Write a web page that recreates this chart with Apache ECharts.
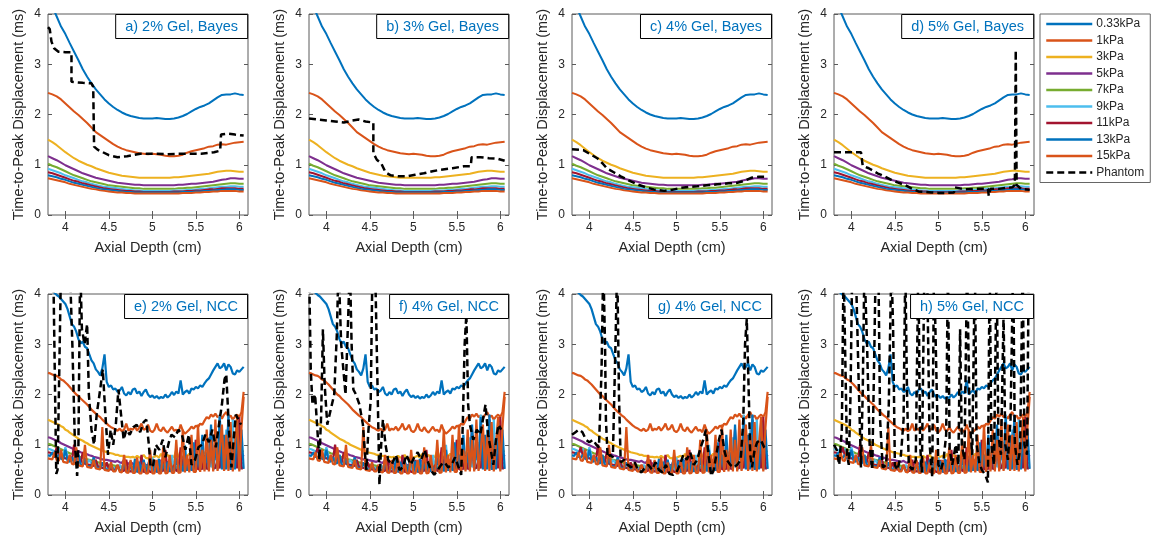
<!DOCTYPE html>
<html>
<head>
<meta charset="utf-8">
<script src="https://cdn.jsdelivr.net/npm/echarts@6/dist/echarts.min.js"></script>
<style>
  html, body { margin: 0; padding: 0; background: #fff; }
  #chart { width: 1152px; height: 542px; }
</style>
</head>
<body>
<div id="chart"></div>
<script>
// ---------- labels ----------
const stiffnessNames = ['0.33kPa', '1kPa', '3kPa', '5kPa', '7kPa', '9kPa', '11kPa', '13kPa', '15kPa'];
const phantomName = 'Phantom';
const panelTitles = ['a) 2% Gel, Bayes', 'b) 3% Gel, Bayes', 'c) 4% Gel, Bayes', 'd) 5% Gel, Bayes',
                     'e) 2% Gel, NCC', 'f) 4% Gel, NCC', 'g) 4% Gel, NCC', 'h) 5% Gel, NCC'];
const depthTicks = [4, 4.5, 5, 5.5, 6];
const xTitle = 'Axial Depth (cm)';
const yTitle = 'Time-to-Peak Displacement (ms)';

// ---------- Bayesian estimator, simulated materials (depth in cm, TTP in ms) ----------
const depthBayes = [3.80,3.85,3.90,3.95,4.00,4.05,4.10,4.15,4.20,4.25,
  4.30,4.35,4.40,4.45,4.50,4.55,4.60,4.65,4.70,4.75,
  4.80,4.85,4.90,4.95,5.00,5.05,5.10,5.15,5.20,5.25,
  5.30,5.35,5.40,5.45,5.50,5.55,5.60,5.65,5.70,5.75,
  5.80,5.85,5.90,5.95,6.00,6.05];
const bayes033 = [4.35,4.15,3.95,3.75,3.60,3.42,3.25,3.08,2.90,2.75,
  2.62,2.50,2.40,2.30,2.22,2.15,2.09,2.04,2.00,1.97,
  1.95,1.93,1.92,1.92,1.92,1.93,1.92,1.91,1.91,1.92,
  1.94,1.97,2.01,2.06,2.11,2.15,2.18,2.22,2.28,2.34,
  2.39,2.40,2.40,2.42,2.40,2.39];
const bayes1 = [2.43,2.40,2.36,2.30,2.22,2.14,2.06,1.99,1.91,1.83,
  1.74,1.65,1.59,1.53,1.47,1.41,1.36,1.32,1.29,1.27,
  1.25,1.23,1.22,1.21,1.22,1.21,1.20,1.18,1.17,1.17,
  1.18,1.20,1.24,1.27,1.29,1.31,1.33,1.36,1.37,1.40,
  1.41,1.40,1.42,1.44,1.45,1.46];
const bayes3 = [1.50,1.45,1.39,1.32,1.25,1.19,1.13,1.08,1.04,1.00,
  0.97,0.93,0.90,0.87,0.84,0.82,0.80,0.78,0.77,0.76,
  0.75,0.74,0.74,0.74,0.74,0.74,0.74,0.74,0.74,0.75,
  0.75,0.76,0.77,0.78,0.79,0.80,0.81,0.82,0.84,0.86,
  0.87,0.88,0.88,0.87,0.86,0.86];
const bayes5 = [1.17,1.13,1.09,1.04,0.99,0.95,0.91,0.87,0.83,0.80,
  0.77,0.74,0.72,0.70,0.68,0.66,0.64,0.63,0.62,0.61,
  0.60,0.60,0.59,0.59,0.59,0.59,0.59,0.59,0.59,0.59,
  0.60,0.60,0.61,0.62,0.62,0.63,0.64,0.65,0.66,0.68,
  0.70,0.71,0.73,0.73,0.72,0.72];
const bayes7 = [1.02,0.98,0.95,0.91,0.87,0.83,0.79,0.76,0.73,0.70,
  0.67,0.65,0.63,0.61,0.59,0.58,0.57,0.56,0.55,0.54,
  0.53,0.53,0.52,0.52,0.52,0.52,0.52,0.52,0.52,0.52,
  0.53,0.53,0.54,0.54,0.55,0.56,0.57,0.58,0.59,0.60,
  0.61,0.62,0.63,0.63,0.62,0.62];
const bayes9 = [0.92,0.89,0.86,0.83,0.79,0.76,0.73,0.70,0.67,0.65,
  0.62,0.60,0.58,0.56,0.55,0.54,0.53,0.52,0.51,0.50,
  0.49,0.49,0.48,0.48,0.48,0.48,0.48,0.48,0.48,0.49,
  0.49,0.49,0.50,0.50,0.51,0.52,0.52,0.53,0.54,0.55,
  0.56,0.56,0.57,0.57,0.56,0.56];
const bayes11 = [0.85,0.83,0.80,0.77,0.74,0.71,0.68,0.66,0.63,0.61,
  0.59,0.57,0.55,0.53,0.52,0.51,0.50,0.49,0.48,0.48,
  0.47,0.47,0.46,0.46,0.46,0.46,0.46,0.46,0.46,0.47,
  0.47,0.47,0.48,0.48,0.49,0.49,0.50,0.51,0.51,0.52,
  0.53,0.53,0.53,0.53,0.52,0.52];
const bayes13 = [0.79,0.77,0.75,0.72,0.70,0.67,0.64,0.62,0.60,0.58,
  0.56,0.54,0.52,0.51,0.50,0.49,0.48,0.47,0.46,0.46,
  0.45,0.45,0.45,0.45,0.45,0.45,0.45,0.45,0.45,0.45,
  0.45,0.46,0.46,0.46,0.47,0.47,0.48,0.48,0.49,0.50,
  0.50,0.51,0.51,0.51,0.50,0.50];
const bayes15 = [0.73,0.71,0.69,0.67,0.65,0.62,0.60,0.58,0.56,0.54,
  0.52,0.51,0.49,0.48,0.47,0.46,0.45,0.45,0.44,0.44,
  0.43,0.43,0.43,0.43,0.43,0.43,0.43,0.43,0.43,0.43,
  0.43,0.44,0.44,0.44,0.45,0.45,0.46,0.46,0.47,0.47,
  0.48,0.48,0.48,0.48,0.47,0.47];

// ---------- NCC estimator, simulated materials ----------
const depthNcc = [3.800,3.825,3.850,3.875,3.900,3.925,3.950,3.975,4.000,4.025,
  4.050,4.075,4.100,4.125,4.150,4.175,4.200,4.225,4.250,4.275,
  4.300,4.325,4.350,4.375,4.400,4.425,4.450,4.475,4.500,4.525,
  4.550,4.575,4.600,4.625,4.650,4.675,4.700,4.725,4.750,4.775,
  4.800,4.825,4.850,4.875,4.900,4.925,4.950,4.975,5.000,5.025,
  5.050,5.075,5.100,5.125,5.150,5.175,5.200,5.225,5.250,5.275,
  5.300,5.325,5.350,5.375,5.400,5.425,5.450,5.475,5.500,5.525,
  5.550,5.575,5.600,5.625,5.650,5.675,5.700,5.725,5.750,5.775,
  5.800,5.825,5.850,5.875,5.900,5.925,5.950,5.975,6.000,6.025,
  6.050];
const ncc033 = [4.30,4.20,4.10,4.02,3.98,3.95,3.90,3.85,3.80,3.70,
  3.55,3.40,3.35,3.25,3.10,3.02,3.05,2.95,2.92,2.80,
  2.68,2.62,2.50,2.45,2.38,2.52,2.80,2.25,2.15,2.18,
  2.10,2.12,2.05,2.08,2.15,2.02,1.98,2.05,2.00,2.10,
  2.12,2.02,2.06,1.97,2.05,2.10,2.00,1.95,1.98,1.93,
  1.97,1.92,1.95,1.93,2.00,1.94,1.98,2.05,1.99,2.06,
  2.02,2.28,2.00,2.05,2.08,2.02,2.12,2.10,2.15,2.12,
  2.18,2.15,2.22,2.28,2.32,2.40,2.48,2.55,2.62,2.52,
  2.55,2.62,2.48,2.60,2.55,2.42,2.40,2.48,2.45,2.50,
  2.55];
const ncc1 = [2.43,2.42,2.40,2.38,2.37,2.34,2.30,2.28,2.24,2.20,
  2.15,2.10,2.05,2.00,1.97,1.92,1.88,1.84,1.80,1.75,
  1.70,1.66,1.62,1.58,1.55,1.50,1.46,1.42,1.38,1.35,
  1.33,1.30,1.28,1.32,1.27,1.30,1.42,1.28,1.32,1.30,
  1.36,1.28,1.34,1.42,1.30,1.32,1.40,1.28,1.25,1.30,
  1.42,1.30,1.27,1.35,1.28,1.24,1.30,1.36,1.28,1.30,
  1.25,1.40,1.28,1.22,1.26,1.30,1.36,1.32,1.38,1.35,
  1.42,1.40,1.48,1.55,1.52,1.60,1.56,1.62,1.55,1.58,
  1.52,1.60,1.65,1.55,1.58,1.50,1.56,1.60,1.55,1.65,
  2.05];
const ncc3 = [1.50,1.48,1.46,1.44,1.42,1.40,1.37,1.35,1.30,1.28,
  1.24,1.21,1.18,1.15,1.12,1.10,1.08,1.05,1.03,1.00,
  0.98,0.96,0.94,0.92,0.90,0.88,0.87,0.85,0.84,0.83,
  0.82,0.80,0.80,0.78,0.78,0.77,0.76,0.76,0.75,0.76,
  0.74,0.78,0.75,0.74,0.80,0.74,0.73,0.75,0.74,0.76,
  0.78,0.74,0.82,0.75,0.76,0.80,0.74,0.78,0.75,0.90,
  0.76,0.78,0.75,0.80,0.77,0.82,0.78,0.76,0.80,0.79,
  0.82,0.80,0.85,0.82,0.95,0.84,0.86,0.85,1.05,0.87,
  0.88,0.86,0.90,0.88,1.10,0.87,0.88,0.86,0.90,0.86,
  0.88];
const ncc5 = [1.15,1.14,1.12,1.10,1.08,1.06,1.03,1.01,0.99,0.97,
  0.95,0.93,0.91,0.89,0.87,0.85,0.84,0.82,0.81,0.79,
  0.78,0.76,0.75,0.74,0.72,0.71,0.70,0.70,0.69,0.68,
  0.67,0.66,0.68,0.65,0.64,0.70,0.63,0.62,0.66,0.62,
  0.61,0.60,0.64,0.60,0.62,0.60,0.59,0.63,0.60,0.59,
  0.62,0.60,0.70,0.60,0.62,0.66,0.60,0.61,0.64,0.62,
  0.61,0.68,0.62,0.63,0.70,0.63,0.65,0.64,0.72,0.65,
  0.66,0.78,0.67,0.68,0.90,0.69,0.70,0.72,1.00,0.72,
  0.73,0.75,1.20,0.74,0.73,0.78,0.72,0.74,0.76,0.73,
  0.80];
const ncc7 = [1.02,1.01,0.99,0.97,0.95,0.93,0.91,0.89,0.87,0.85,
  0.83,0.82,0.80,0.78,0.77,0.75,0.74,0.72,0.71,0.70,
  0.69,0.67,0.66,0.65,0.64,0.63,0.62,0.61,0.60,0.60,
  0.59,0.58,0.57,0.57,0.56,0.56,0.60,0.55,0.54,0.56,
  0.54,0.53,0.58,0.53,0.54,0.52,0.60,0.53,0.52,0.55,
  0.53,0.52,0.58,0.53,0.55,0.54,0.53,0.62,0.54,0.55,
  0.56,0.54,0.65,0.56,0.57,0.58,0.56,0.70,0.58,0.59,
  0.60,0.58,0.75,0.60,0.61,0.64,0.62,0.90,0.63,0.64,
  0.62,0.66,1.00,0.63,0.64,0.62,0.70,0.63,0.62,0.64,
  0.62];
const ncc9 = [0.92,0.91,0.89,0.87,0.85,0.92,0.82,0.80,0.95,0.77,
  0.75,0.74,0.72,0.70,0.78,0.68,0.66,0.65,0.64,0.70,
  0.62,0.61,0.60,0.59,0.58,0.64,0.57,0.56,0.55,0.58,
  0.54,0.53,0.53,0.60,0.52,0.52,0.51,0.58,0.50,0.50,
  0.49,0.66,0.49,0.48,0.70,0.48,0.52,0.48,0.75,0.48,
  0.48,0.70,0.49,0.50,0.65,0.49,0.50,0.80,0.50,0.51,
  0.55,0.51,0.50,1.00,0.52,0.53,0.60,0.52,1.10,0.54,
  0.53,0.70,0.55,0.56,1.15,0.56,0.58,0.90,0.57,1.60,
  0.57,0.60,1.30,0.58,0.56,1.50,0.57,0.60,1.20,0.56,
  0.58];
const ncc11 = [0.85,0.84,0.82,0.80,0.95,0.78,0.76,0.75,0.73,0.72,
  0.70,0.69,1.00,0.67,0.66,0.64,0.85,0.62,0.61,0.60,
  0.59,0.58,0.70,0.56,0.55,0.54,0.53,0.65,0.52,0.51,
  0.50,0.50,0.60,0.49,0.48,0.48,0.70,0.48,0.47,0.47,
  0.60,0.47,0.46,0.80,0.46,0.46,0.50,0.46,0.46,0.70,
  0.46,0.47,0.55,0.47,0.90,0.47,0.48,0.48,0.60,0.48,
  0.49,0.95,0.49,0.50,0.50,0.70,0.50,0.51,1.10,0.51,
  0.52,0.52,0.80,0.52,0.53,1.30,0.53,0.54,0.70,0.53,
  1.20,0.53,0.54,1.50,0.53,0.52,0.90,0.53,1.55,0.52,
  0.55];
const ncc13 = [0.79,0.78,0.85,0.76,0.74,0.80,0.72,0.70,0.90,0.68,
  0.66,0.75,0.64,0.63,0.80,0.61,0.60,0.72,0.58,0.57,
  0.56,0.75,0.55,0.54,0.53,0.65,0.52,0.51,0.50,0.62,
  0.49,0.49,0.58,0.48,0.47,0.68,0.47,0.46,0.62,0.46,
  0.72,0.45,0.66,0.45,0.70,0.45,0.60,0.74,0.45,0.68,
  0.45,0.72,0.45,0.62,0.46,0.66,0.46,0.55,0.46,0.75,
  0.47,0.60,0.47,0.90,0.48,0.70,0.48,1.05,0.49,0.80,
  0.50,1.20,0.50,0.85,0.51,1.40,0.50,1.00,0.51,1.55,
  0.51,1.20,0.51,1.60,0.50,1.00,0.51,1.45,0.50,1.30,
  0.52];
const ncc15 = [0.73,0.72,0.71,0.85,0.69,0.68,0.90,0.66,0.65,0.64,
  0.80,0.62,0.61,0.95,0.59,0.58,0.57,1.00,0.56,0.55,
  0.54,0.70,0.53,0.52,0.51,1.35,0.50,0.49,0.48,0.65,
  0.47,0.47,0.60,0.46,0.45,0.80,0.45,0.44,0.70,0.44,
  0.44,0.75,0.43,0.43,0.65,0.43,0.43,0.90,0.43,0.43,
  0.70,0.43,0.43,0.95,0.43,0.44,0.80,0.44,0.44,1.10,
  0.44,0.45,1.30,0.45,0.80,0.45,1.20,0.46,0.46,1.40,
  0.46,0.90,0.47,1.30,0.47,1.10,0.47,1.50,0.48,0.90,
  1.40,0.48,1.20,0.48,1.45,0.47,1.00,1.55,0.47,1.35,
  1.95];

// ---------- gel phantom measurements, [depth, TTP] ----------
const phantomA = [[3.80,3.74],[3.82,3.70],[3.84,3.45],[3.87,3.32],[3.92,3.25],[4.00,3.24],[4.07,3.24],[4.07,2.65],
  [4.20,2.63],[4.30,2.62],[4.32,2.55],[4.33,1.36],[4.37,1.30],[4.43,1.25],[4.50,1.19],[4.60,1.15],[4.71,1.17],
  [4.86,1.22],[5.02,1.22],[5.17,1.21],[5.33,1.22],[5.56,1.22],[5.71,1.25],[5.78,1.28],[5.79,1.60],[5.87,1.62],
  [5.95,1.60],[6.05,1.58]];
const phantomB = [[3.80,1.92],[3.90,1.90],[4.00,1.88],[4.10,1.86],[4.20,1.84],[4.30,1.88],[4.37,1.90],[4.45,1.86],
  [4.54,1.84],[4.54,1.23],[4.58,1.10],[4.63,1.03],[4.68,0.85],[4.74,0.79],[4.83,0.77],[4.92,0.77],[5.02,0.80],
  [5.12,0.83],[5.22,0.87],[5.31,0.90],[5.45,0.93],[5.58,0.97],[5.66,0.97],[5.67,1.15],[5.77,1.15],[5.87,1.13],
  [5.97,1.12],[6.05,1.08]];
const phantomC = [[3.80,1.31],[3.93,1.29],[4.00,1.22],[4.09,1.13],[4.15,1.03],[4.20,0.93],[4.28,0.85],[4.36,0.77],
  [4.45,0.69],[4.55,0.61],[4.65,0.55],[4.74,0.51],[4.86,0.48],[4.95,0.50],[5.05,0.54],[5.15,0.56],[5.24,0.57],
  [5.35,0.59],[5.47,0.61],[5.60,0.63],[5.70,0.64],[5.78,0.68],[5.86,0.74],[5.95,0.76],[6.05,0.76]];
const phantomD = [[3.80,1.25],[3.95,1.25],[4.11,1.25],[4.13,1.22],[4.13,0.98],[4.20,0.93],[4.30,0.83],[4.38,0.77],
  [4.46,0.70],[4.53,0.65],[4.61,0.60],[4.69,0.53],[4.77,0.47],[4.85,0.46],[4.92,0.45],[5.00,0.44],[5.08,0.44],
  [5.18,0.45],[5.19,0.55],[5.25,0.53],[5.31,0.51],[5.40,0.52],[5.46,0.52],[5.57,0.52],[5.58,0.38],[5.60,0.40],
  [5.60,0.52],[5.69,0.52],[5.78,0.54],[5.85,0.55],[5.88,0.60],[5.89,3.28],[5.90,0.60],[5.95,0.52],[6.05,0.50]];
const phantomE = [[3.86,4.6],[3.88,2.2],[3.895,0.42],[3.91,0.5],[3.93,2.5],[3.95,4.6],[4.05,4.6],[4.08,3.0],
  [4.11,1.0],[4.135,0.38],[4.15,1.0],[4.17,4.6],[4.19,3.3],[4.22,3.0],[4.25,3.4],[4.27,2.0],[4.30,1.3],[4.33,1.0],
  [4.36,1.6],[4.40,2.1],[4.43,2.5],[4.46,1.6],[4.49,0.8],[4.52,1.3],[4.55,1.0],[4.58,1.4],[4.61,2.1],[4.64,1.6],
  [4.67,1.1],[4.70,1.3],[4.74,1.2],[4.78,1.35],[4.82,1.4],[4.86,1.25],[4.90,1.45],[4.93,1.5],[4.96,1.0],[4.98,0.55],
  [5.01,0.6],[5.04,1.0],[5.08,0.9],[5.12,1.1],[5.15,0.75],[5.19,1.05],[5.22,1.2],[5.26,1.15],[5.30,1.3],[5.34,1.2],
  [5.38,0.9],[5.42,1.2],[5.45,0.6],[5.49,0.7],[5.53,0.95],[5.57,1.0],[5.61,1.2],[5.65,1.05],[5.69,1.3],[5.73,0.95],
  [5.77,1.45],[5.80,1.8],[5.83,2.3],[5.85,2.4],[5.87,1.7],[5.89,1.0],[5.91,0.55],[5.93,1.0],[5.96,1.6],[5.99,1.5],
  [6.02,1.4]];
const phantomF = [[3.80,4.6],[3.82,2.5],[3.84,1.8],[3.87,2.0],[3.90,1.2],[3.92,0.7],[3.94,1.6],[3.96,3.3],
  [3.98,2.2],[4.01,1.4],[4.05,1.7],[4.09,2.0],[4.12,3.2],[4.14,4.6],[4.17,3.0],[4.20,2.4],[4.22,2.0],[4.25,3.5],
  [4.27,4.6],[4.29,3.0],[4.31,2.1],[4.34,2.0],[4.38,1.8],[4.42,1.4],[4.44,0.9],[4.46,0.5],[4.48,1.2],[4.51,1.9],
  [4.53,4.6],[4.56,4.6],[4.59,2.0],[4.61,0.2],[4.63,1.0],[4.65,1.5],[4.68,1.0],[4.71,0.7],[4.75,0.6],[4.80,0.8],
  [4.84,0.5],[4.88,0.55],[4.92,0.8],[4.97,0.6],[5.01,0.75],[5.05,0.85],[5.09,0.7],[5.13,0.9],[5.17,0.65],[5.20,0.5],
  [5.24,0.4],[5.28,0.5],[5.32,0.6],[5.36,0.65],[5.40,0.55],[5.44,0.6],[5.48,0.75],[5.52,0.55],[5.55,0.4],[5.57,1.5],
  [5.59,3.0],[5.61,3.6],[5.63,1.8],[5.65,1.4],[5.69,1.1],[5.73,1.3],[5.77,1.2],[5.80,1.5],[5.83,1.8],[5.86,1.2],
  [5.89,0.9],[5.92,0.6],[5.95,1.1],[5.98,1.4],[6.01,1.3]];
const phantomG = [[3.80,1.2],[3.84,1.25],[3.88,1.3],[3.92,1.25],[3.96,1.1],[4.00,1.05],[4.04,1.1],[4.08,1.0],
  [4.11,0.95],[4.14,2.5],[4.16,4.6],[4.18,3.0],[4.19,1.5],[4.21,0.75],[4.24,0.8],[4.27,0.75],[4.30,3.0],[4.32,4.6],
  [4.34,2.0],[4.36,0.65],[4.40,0.7],[4.44,0.6],[4.48,0.55],[4.52,0.65],[4.56,0.5],[4.60,0.45],[4.64,0.55],[4.68,0.6],
  [4.72,0.5],[4.76,0.65],[4.80,0.5],[4.84,0.45],[4.88,0.6],[4.92,0.42],[4.96,0.4],[5.00,0.45],[5.04,0.6],[5.08,0.8],
  [5.12,0.7],[5.16,0.85],[5.20,0.6],[5.24,0.7],[5.28,0.95],[5.31,1.1],[5.34,1.3],[5.37,0.8],[5.40,0.38],[5.43,0.5],
  [5.46,0.8],[5.49,1.1],[5.52,1.3],[5.55,0.9],[5.58,0.7],[5.62,0.6],[5.66,0.55],[5.70,0.6],[5.74,0.7],[5.77,1.5],
  [5.79,3.0],[5.81,3.5],[5.83,2.2],[5.85,0.8],[5.87,0.55],[5.90,0.9],[5.93,1.05],[5.97,1.1],[6.01,0.95],[6.04,0.9]];
const phantomH = [[3.80,1.0],[3.83,0.9],[3.86,0.6],[3.89,1.3],[3.91,4.6],[3.93,4.6],[3.95,0.8],[3.97,0.6],
  [3.99,2.0],[4.01,4.6],[4.05,4.6],[4.08,2.5],[4.11,0.55],[4.13,2.0],[4.15,4.6],[4.18,3.0],[4.21,1.0],[4.24,0.5],
  [4.26,2.5],[4.28,4.6],[4.31,4.6],[4.33,1.5],[4.36,0.55],[4.40,0.6],[4.43,1.8],[4.46,4.6],[4.48,3.3],[4.50,0.6],
  [4.53,0.5],[4.57,0.8],[4.60,1.5],[4.62,4.6],[4.64,2.0],[4.66,0.6],[4.70,0.5],[4.74,0.7],[4.77,4.6],[4.79,1.0],
  [4.81,0.45],[4.84,4.6],[4.87,4.6],[4.90,1.0],[4.93,0.35],[4.95,4.6],[4.97,4.6],[5.00,0.6],[5.03,0.5],[5.06,0.7],
  [5.09,1.2],[5.11,4.6],[5.13,0.9],[5.16,0.6],[5.20,1.0],[5.23,0.6],[5.25,3.3],[5.27,1.0],[5.30,0.7],[5.33,4.6],
  [5.36,1.5],[5.39,0.8],[5.42,4.6],[5.44,1.0],[5.47,0.65],[5.50,0.5],[5.54,0.4],[5.57,0.25],[5.59,4.6],[5.61,1.0],
  [5.64,0.6],[5.67,4.6],[5.69,1.2],[5.72,0.8],[5.75,3.6],[5.77,1.0],[5.80,0.7],[5.83,1.5],[5.86,4.6],[5.88,1.0],
  [5.91,0.6],[5.94,0.9],[5.97,4.6],[5.99,1.0],[6.02,0.8],[6.04,4.6]];

// ---------- styling ----------
const lineColors = ['#0072BD', '#D95319', '#EDB120', '#7E2F8E', '#77AC30', '#4DBEEE', '#A2142F', '#0072BD', '#D95319'];
const FONT = '"Liberation Sans", Arial, Helvetica, sans-serif';
const INK = '#262626';
const FRAME = '#5a5a5a';

const gridLefts = [48, 309, 572, 834];
const gridTops = [14, 294];
const gridW = 200, gridH = 201;
const chartW = 1152;

const bayesCurves = [bayes033, bayes1, bayes3, bayes5, bayes7, bayes9, bayes11, bayes13, bayes15];
const nccCurves = [ncc033, ncc1, ncc3, ncc5, ncc7, ncc9, ncc11, ncc13, ncc15];
const phantoms = [phantomA, phantomB, phantomC, phantomD, phantomE, phantomF, phantomG, phantomH];

const grids = [], xAxes = [], yAxes = [], titles = [], series = [];

// main axes (index p) and mirrored box axes (index 8 + p) carrying the top/right ticks
for (let p = 0; p < 8; p++) {
  const row = p < 4 ? 0 : 1;
  const col = p % 4;
  const left = gridLefts[col];
  const top = gridTops[row];
  grids.push({ left, top, width: gridW, height: gridH, show: true,
    borderColor: FRAME, borderWidth: 1, backgroundColor: '#fff', containLabel: false });
  xAxes.push({
    type: 'value', gridIndex: p, min: 3.8, max: 6.1, position: 'bottom',
    name: xTitle, nameLocation: 'middle', nameGap: 25,
    nameTextStyle: { fontFamily: FONT, fontSize: 14.5, color: INK },
    axisLine: { show: false },
    axisTick: { show: true, inside: true, length: 4, customValues: depthTicks, lineStyle: { color: FRAME } },
    axisLabel: { customValues: depthTicks, margin: 7, fontFamily: FONT, fontSize: 12, color: INK },
    splitLine: { show: false }
  });
  yAxes.push({
    type: 'value', gridIndex: p, min: 0, max: 4, interval: 1, position: 'left',
    name: yTitle, nameLocation: 'middle', nameGap: 22,
    nameTextStyle: { fontFamily: FONT, fontSize: 14.5, color: INK },
    axisLine: { show: false },
    axisTick: { show: true, inside: true, length: 4, lineStyle: { color: FRAME } },
    axisLabel: { margin: 7, fontFamily: FONT, fontSize: 12, color: INK },
    splitLine: { show: false }
  });
  titles.push({
    text: panelTitles[p],
    right: chartW - (left + gridW),
    top: top,
    padding: [5, 10, 5, 10],
    backgroundColor: '#fff',
    borderColor: '#000',
    borderWidth: 1,
    textStyle: { fontFamily: FONT, fontSize: 14.5, fontWeight: 'normal', color: '#0072BD' }
  });

  const depth = row === 0 ? depthBayes : depthNcc;
  const curves = row === 0 ? bayesCurves : nccCurves;
  const w = row === 0 ? 2 : 2.2;
  curves.forEach((ys, k) => {
    series.push({
      type: 'line', name: stiffnessNames[k], xAxisIndex: p, yAxisIndex: p,
      data: depth.map((x, i) => [x, ys[i]]),
      symbol: 'none', showSymbol: false, clip: true, animation: false,
      lineStyle: { color: lineColors[k], width: w },
      itemStyle: { color: lineColors[k] },
      z: 2 + k * 0.01
    });
  });
  series.push({
    type: 'line', name: phantomName, xAxisIndex: p, yAxisIndex: p,
    data: phantoms[p],
    symbol: 'none', showSymbol: false, clip: true, animation: false,
    lineStyle: { color: '#000', width: 2.5, type: [7, 4] },
    itemStyle: { color: '#000' },
    z: 3
  });
}
for (let p = 0; p < 8; p++) {
  xAxes.push({
    type: 'value', gridIndex: p, min: 3.8, max: 6.1, position: 'top',
    axisLine: { show: false },
    axisTick: { show: true, inside: true, length: 4, customValues: depthTicks, lineStyle: { color: FRAME } },
    axisLabel: { show: false }, splitLine: { show: false }
  });
  yAxes.push({
    type: 'value', gridIndex: p, min: 0, max: 4, interval: 1, position: 'right',
    axisLine: { show: false },
    axisTick: { show: true, inside: true, length: 4, lineStyle: { color: FRAME } },
    axisLabel: { show: false }, splitLine: { show: false }
  });
}

const chart = echarts.init(document.getElementById('chart'), null, { renderer: 'canvas' });
chart.setOption({
  animation: false,
  backgroundColor: '#fff',
  title: titles,
  grid: grids,
  xAxis: xAxes,
  yAxis: yAxes,
  legend: {
    data: stiffnessNames.concat([phantomName]),
    orient: 'vertical',
    left: 1040, top: 14,
    padding: [4, 6, 4, 5],
    itemWidth: 46, itemHeight: 12, itemGap: 4.5,
    borderColor: '#666', borderWidth: 1, backgroundColor: '#fff',
    selectedMode: false,
    itemStyle: { opacity: 0 },
    lineStyle: { width: 2.5 },
    textStyle: { fontFamily: FONT, fontSize: 12, color: INK, padding: [0, 0, 0, -1] }
  },
  series
});
</script>
</body>
</html>
